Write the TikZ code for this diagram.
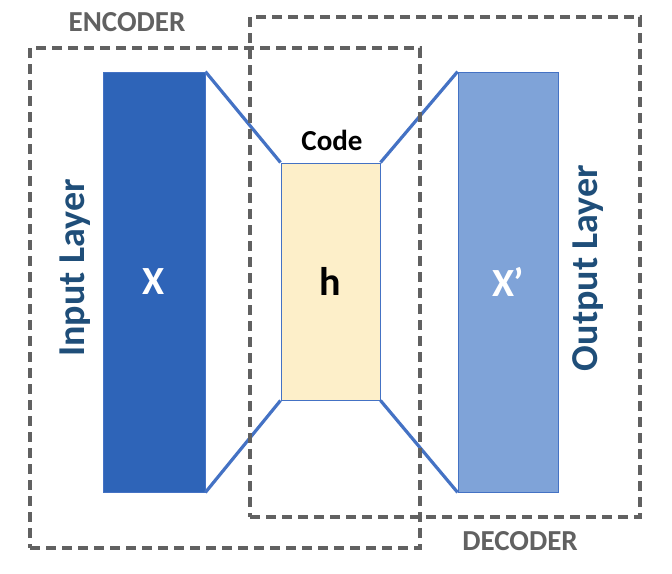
\documentclass[tikz,border=0pt]{standalone}
\usepackage{fontspec}
\setmainfont{Carlito}
\begin{document}
\begin{tikzpicture}[x=1pt,y=-1pt,
  box/.style={draw=black!62,line width=3.6pt,dash pattern=on 10pt off 6pt},
  lbl/.style={text=black!62,font=\bfseries\fontsize{29}{32}\selectfont},
  conn/.style={line width=3.2pt,color={rgb,255:red,68;green,114;blue,196}},
  side/.style={text={rgb,255:red,31;green,78;blue,121},font=\bfseries\fontsize{38}{40}\selectfont,rotate=90}]
\useasboundingbox (0,0) rectangle (672,573);
\definecolor{xdark}{RGB}{46,100,184}
\definecolor{xlight}{RGB}{127,163,216}
\definecolor{hfill}{RGB}{253,239,201}
\definecolor{edge}{RGB}{68,114,196}
\node[draw=edge,fill=xdark,minimum width=102pt,minimum height=420pt,inner sep=0,line width=0.8pt] (x) at (154,282) {};
\node[draw=edge,fill=hfill,minimum width=99pt,minimum height=237pt,inner sep=0,line width=1pt] (h) at (330.5,281.5) {};
\node[draw=edge,fill=xlight,minimum width=100pt,minimum height=420pt,inner sep=0,line width=0.8pt] (xp) at (508,282) {};
\node[text=white,font=\bfseries\fontsize{40}{42}\selectfont] (xt) at (x) {X};
\node[font=\bfseries\fontsize{40}{42}\selectfont] (ht) at (h) {h};
\node[text=white,font=\bfseries\fontsize{40}{42}\selectfont] (xpt) at (xp) {X’};
\node[font=\bfseries\fontsize{29}{32}\selectfont] (code) at (332,140) {Code};
\draw[conn] (x.north east) -- (h.north west);
\draw[conn] (x.south east) -- (h.south west);
\draw[conn] (h.north east) -- (xp.north west);
\draw[conn] (h.south east) -- (xp.south west);
\node[box,minimum width=390pt,minimum height=500pt,inner sep=0] (enc) at (225,298) {};
\node[box,minimum width=390pt,minimum height=500pt,inner sep=0] (dec) at (445,267) {};
\node[lbl] (encl) at (127,22) {ENCODER};
\node[lbl] (decl) at (520,541) {DECODER};
\node[side] (in) at (75,268) {Input Layer};
\node[side] (out) at (588,268) {Output Layer};
\end{tikzpicture}
\end{document}
